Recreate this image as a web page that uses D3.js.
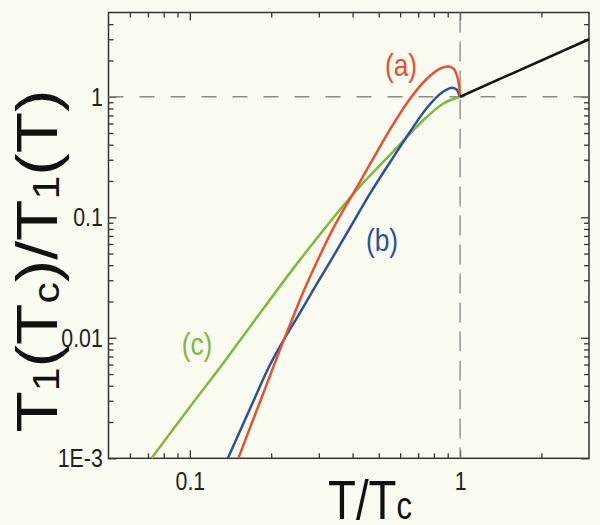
<!DOCTYPE html>
<html>
<head>
<meta charset="utf-8">
<script src="https://cdn.jsdelivr.net/npm/d3@7"></script>
<style>
body { margin: 0; background: #fbfcf1; }
text { font-family: Arial, "Liberation Sans", sans-serif; }
</style>
</head>
<body>
<div id="chart"></div>
<script>
// curve (a)
const aT = [0.1512, 0.1668, 0.1848, 0.1978, 0.2154, 0.2346, 0.2555, 0.2954, 0.3386, 0.3914, 0.4262, 0.4929, 0.5646, 0.6529, 0.7545, 0.8432, 0.9028, 0.9341, 0.9583, 0.9831, 0.9957, 1.0];
const aR = [0.001, 0.00178, 0.00323, 0.00482, 0.00793, 0.0128, 0.0206, 0.0427, 0.0801, 0.142, 0.197, 0.349, 0.586, 0.963, 1.41, 1.71, 1.78, 1.74, 1.64, 1.38, 1.14, 1.0];
// curve (b)
const bT = [0.1382, 0.1532, 0.1726, 0.1945, 0.2248, 0.2555, 0.2954, 0.3386, 0.3914, 0.4642, 0.5646, 0.6529, 0.7545, 0.865, 0.9341, 0.9747, 0.9915, 1.0];
const bR = [0.001, 0.00168, 0.00305, 0.00551, 0.00997, 0.0161, 0.0281, 0.0469, 0.0817, 0.157, 0.312, 0.512, 0.810, 1.10, 1.19, 1.14, 1.04, 1.0];
// curve (c)
const cT = [0.0721, 0.1, 0.1348, 0.1668, 0.2555, 0.4153, 0.5646, 0.7545, 0.865, 1.0];
const cR = [0.001, 0.00267, 0.00643, 0.0123, 0.0443, 0.169, 0.349, 0.682, 0.875, 1.0];
// normal state above Tc
const nT = [1, 3];
const nR = [1, 3];

const xMajor = [0.1, 1];
const xMajorLabels = ["0.1", "1"];
const xMinor = [0.06, 0.07, 0.08, 0.09, 0.2, 0.3, 0.4, 0.5, 0.6, 0.7, 0.8, 0.9, 2];
const yMajor = [0.001, 0.01, 0.1, 1];
const yMajorLabels = ["1E-3", "0.01", "0.1", "1"];
const yMinor = [0.002, 0.003, 0.004, 0.005, 0.006, 0.007, 0.008, 0.009,
                0.02, 0.03, 0.04, 0.05, 0.06, 0.07, 0.08, 0.09,
                0.2, 0.3, 0.4, 0.5, 0.6, 0.7, 0.8, 0.9, 2, 3, 4];

const width = 600;
const height = 525;
const margin = { top: 12.5, right: 11, bottom: 66.7, left: 108.5 };

const svg = d3.select("#chart")
    .append("svg")
    .attr("width", width)
    .attr("height", height);

const x = d3.scaleLog()
    .domain([0.05, 3])
    .range([margin.left, width - margin.right]);

const y = d3.scaleLog()
    .domain([0.001, 5])
    .range([height - margin.bottom, margin.top]);

const axisColor = "#333";

function styleAxis(g) {
    g.select(".domain").remove();
    g.selectAll(".tick line").attr("stroke", axisColor).attr("stroke-width", 1.3);
    g.selectAll(".tick text")
        .attr("font-size", 26)
        .attr("fill", "#222")
        .attr("transform", "scale(0.82,1)");
}

// bottom
svg.append("g")
    .attr("transform", `translate(0,${y.range()[0]})`)
    .call(d3.axisBottom(x).tickValues(xMajor).tickSize(-8).tickPadding(13)
        .tickFormat((d, i) => xMajorLabels[i]))
    .call(styleAxis);
svg.append("g")
    .attr("transform", `translate(0,${y.range()[0]})`)
    .call(d3.axisBottom(x).tickValues(xMinor).tickSize(-5).tickFormat(""))
    .call(styleAxis);
// top
svg.append("g")
    .attr("transform", `translate(0,${y.range()[1]})`)
    .call(d3.axisTop(x).tickValues(xMajor).tickSize(-8).tickFormat(""))
    .call(styleAxis);
svg.append("g")
    .attr("transform", `translate(0,${y.range()[1]})`)
    .call(d3.axisTop(x).tickValues(xMinor).tickSize(-5).tickFormat(""))
    .call(styleAxis);
// left
svg.append("g")
    .attr("transform", `translate(${x.range()[0]},0)`)
    .call(d3.axisLeft(y).tickValues(yMajor).tickSize(-8).tickPadding(7)
        .tickFormat((d, i) => yMajorLabels[i]))
    .call(styleAxis);
svg.append("g")
    .attr("transform", `translate(${x.range()[0]},0)`)
    .call(d3.axisLeft(y).tickValues(yMinor).tickSize(-5).tickFormat(""))
    .call(styleAxis);
// right
svg.append("g")
    .attr("transform", `translate(${x.range()[1]},0)`)
    .call(d3.axisRight(y).tickValues(yMajor).tickSize(-8).tickFormat(""))
    .call(styleAxis);
svg.append("g")
    .attr("transform", `translate(${x.range()[1]},0)`)
    .call(d3.axisRight(y).tickValues(yMinor).tickSize(-5).tickFormat(""))
    .call(styleAxis);

// frame
svg.append("rect")
    .attr("x", x.range()[0])
    .attr("y", y.range()[1])
    .attr("width", x.range()[1] - x.range()[0])
    .attr("height", y.range()[0] - y.range()[1])
    .attr("fill", "none")
    .attr("stroke", axisColor)
    .attr("stroke-width", 1.5);

// dashed guides at T = Tc and ratio = 1
svg.append("line")
    .attr("x1", x.range()[0]).attr("x2", x.range()[1])
    .attr("y1", y(1)).attr("y2", y(1))
    .attr("stroke", "#8a8a8a").attr("stroke-width", 1.3)
    .attr("stroke-dasharray", "15,16");
svg.append("line")
    .attr("x1", x(1)).attr("x2", x(1))
    .attr("y1", y.range()[1]).attr("y2", y.range()[0])
    .attr("stroke", "#8a8a8a").attr("stroke-width", 1.3)
    .attr("stroke-dasharray", "20,9");

const line = d3.line()
    .x(d => x(d[0]))
    .y(d => y(d[1]))
    .curve(d3.curveMonotoneX);

const curves = [
    { T: cT, R: cR, color: "#7dbb3c" },
    { T: bT, R: bR, color: "#2d4f9e" },
    { T: aT, R: aR, color: "#e8502e" },
    { T: nT, R: nR, color: "#151515" }
];

svg.append("g")
    .selectAll("path")
    .data(curves)
    .join("path")
        .attr("d", c => line(c.T.map((t, i) => [t, c.R[i]])))
        .attr("fill", "none")
        .attr("stroke", c => c.color)
        .attr("stroke-width", 2.5);

// curve labels
const labels = [
    { text: "(a)", px: 401, py: 76, color: "#e8502e" },
    { text: "(b)", px: 382, py: 251, color: "#2d4f9e" },
    { text: "(c)", px: 197, py: 355, color: "#7dbb3c" }
];
svg.append("g")
    .selectAll("text")
    .data(labels)
    .join("text")
        .attr("transform", d => `translate(${d.px},${d.py}) scale(0.85,1)`)
        .attr("text-anchor", "middle")
        .attr("font-size", 31)
        .attr("fill", d => d.color)
        .text(d => d.text);

// axis titles
const xTitle = svg.append("text")
    .attr("x", 370)
    .attr("y", 519)
    .attr("text-anchor", "middle")
    .attr("font-size", 56)
    .attr("fill", "#111")
    .attr("textLength", 84)
    .attr("lengthAdjust", "spacingAndGlyphs");
xTitle.append("tspan").text("T/T");
xTitle.append("tspan").attr("font-size", 38).text("c");

const yTitle = svg.append("text")
    .attr("transform", "translate(57,261) rotate(-90)")
    .attr("text-anchor", "middle")
    .attr("font-size", 57)
    .attr("fill", "#111")
    .attr("textLength", 343)
    .attr("lengthAdjust", "spacingAndGlyphs");
yTitle.append("tspan").text("T");
yTitle.append("tspan").attr("font-size", 36).attr("dy", 2).text("1");
yTitle.append("tspan").attr("dy", -2).text("(T");
yTitle.append("tspan").attr("font-size", 36).attr("dy", 2).text("c");
yTitle.append("tspan").attr("dy", -2).text(")/T");
yTitle.append("tspan").attr("font-size", 36).attr("dy", 2).text("1");
yTitle.append("tspan").attr("dy", -2).text("(T)");
</script>
</body>
</html>
